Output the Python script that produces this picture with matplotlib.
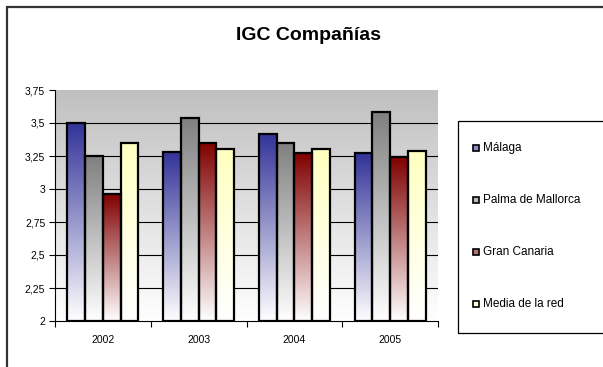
import numpy as np
import matplotlib
matplotlib.use("Agg")
import matplotlib.pyplot as plt
from matplotlib.patches import Rectangle
from matplotlib.colors import LinearSegmentedColormap
from matplotlib.ticker import FuncFormatter

plt.rcParams['font.family'] = ['Liberation Sans', 'DejaVu Sans']

years = ["2002", "2003", "2004", "2005"]
series = ["Málaga", "Palma de Mallorca", "Gran Canaria", "Media de la red"]
malaga = [3.50, 3.28, 3.42, 3.27]
palma = [3.25, 3.54, 3.35, 3.58]
gran_canaria = [2.96, 3.35, 3.27, 3.24]
media_red = [3.35, 3.30, 3.30, 3.29]
values = [malaga, palma, gran_canaria, media_red]
colors = ["#333399", "#808080", "#800000", "#FFFFC0"]
yticks = [2, 2.25, 2.5, 2.75, 3, 3.25, 3.5, 3.75]

W, H = 603, 367
fig = plt.figure(figsize=(W / 100, H / 100), dpi=100)
ax = fig.add_axes([55 / W, 1 - 321 / H, (438 - 55) / W, (321 - 90) / H])

ymin, ymax = 2, 3.75
ax.set_xlim(0, len(years))
ax.set_ylim(ymin, ymax)

# plot area background: grey at top fading to white
grad = np.linspace(0, 1, 256).reshape(-1, 1)
bg_cmap = LinearSegmentedColormap.from_list("bg", ["#FFFFFF", "#C0C0C0"])
ax.imshow(grad, extent=(0, len(years), ymin, ymax), origin="lower",
          cmap=bg_cmap, aspect="auto", zorder=0, interpolation="bicubic")

for t in yticks[1:-1]:
    ax.axhline(t, color="black", lw=0.8, zorder=1)

bar_w = 0.185
group_off = (1 - 4 * bar_w) / 2
for si, (vals, col) in enumerate(zip(values, colors)):
    cmap = LinearSegmentedColormap.from_list(f"c{si}", ["#FFFFFF", col])
    for ci, v in enumerate(vals):
        x0 = ci + group_off + si * bar_w
        ax.imshow(grad, extent=(x0, x0 + bar_w, ymin, v), origin="lower",
                  cmap=cmap, aspect="auto", zorder=2, interpolation="bicubic")
        ax.add_patch(Rectangle((x0, ymin), bar_w, v - ymin, fill=False,
                               edgecolor="black", lw=1.6, zorder=3))

ax.set_xlim(0, len(years))
ax.set_ylim(ymin, ymax)
ax.set_yticks(yticks)
ax.yaxis.set_major_formatter(FuncFormatter(lambda v, p: (f"{v:g}").replace(".", ",")))
ax.set_xticks(np.arange(len(years) + 1))
ax.set_xticklabels([])
ax.set_xticks(np.arange(len(years)) + 0.5, minor=True)
ax.set_xticklabels(years, minor=True)
ax.tick_params(axis="x", which="minor", length=0, pad=10, labelsize=7.5)
ax.tick_params(axis="x", which="major", length=4, direction="out", width=0.8)
ax.tick_params(axis="y", length=4, direction="out", width=0.8, labelsize=7.5, pad=3)
for s in ["top", "right"]:
    ax.spines[s].set_visible(False)
for s in ["left", "bottom"]:
    ax.spines[s].set_linewidth(0.8)

# outer chart border
fig.patches.append(Rectangle((7 / W, -0.1), 1.1, 1 - 7 / H + 0.1, transform=fig.transFigure,
                             fill=False, edgecolor="#333333", lw=1.6))

fig.text(308 / W, 1 - 35 / H, "IGC Compañías", ha="center", va="center",
         fontsize=14, fontweight="bold")

# legend box
fig.patches.append(Rectangle((458 / W, 1 - 333 / H), 0.5, (333 - 121) / H,
                             transform=fig.transFigure, fill=False,
                             edgecolor="black", lw=0.9))
leg_y = [148, 200, 252, 304]
for name, col, yy in zip(series, colors, leg_y):
    mix = 0.55
    c = matplotlib.colors.to_rgb(col)
    fc = tuple(mix * ci + (1 - mix) * 1 for ci in c)
    fig.patches.append(Rectangle((473 / W, 1 - (yy + 3) / H), 6 / W, 6 / H,
                                 transform=fig.transFigure, facecolor=fc,
                                 edgecolor="black", lw=1.2))
    fig.text(483 / W, 1 - yy / H, name, ha="left", va="center", fontsize=8.5)

fig.savefig("out.png", dpi=100)
